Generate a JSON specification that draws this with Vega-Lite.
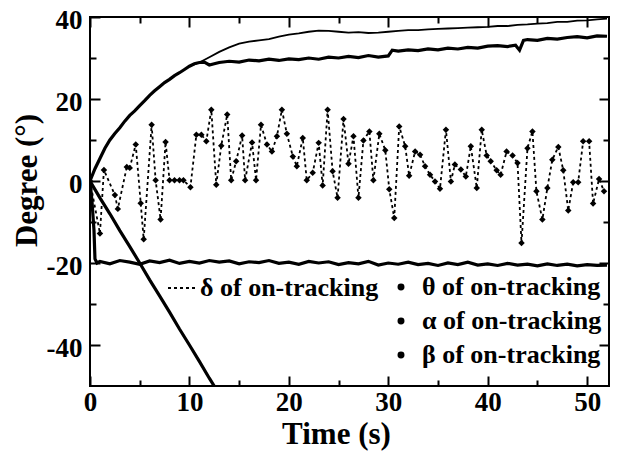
{
  "$schema": "https://vega.github.io/schema/vega-lite/v6.json",
  "width": 519,
  "height": 369,
  "autosize": {"type": "none"},
  "padding": {"left": 90, "top": 17, "right": 10, "bottom": 70},
  "datasets": {
    "delta": [
      {"t":0,"v":0},{"t":1.0,"v":-12.8},{"t":1.4,"v":2.7},{"t":2.5,"v":-3.4},{"t":2.8,"v":-6.8},{"t":3.7,"v":3.4},{"t":4.0,"v":3.2},{"t":4.6,"v":8.9},{"t":5.1,"v":-5.4},{"t":5.4,"v":-14.2},{"t":6.2,"v":13.7},{"t":6.6,"v":0.2},{"t":7.1,"v":-9.4},{"t":7.6,"v":9.5},{"t":8.0,"v":0.2},{"t":8.5,"v":0.2},{"t":9.0,"v":0.2},{"t":9.4,"v":0.2},{"t":10.1,"v":-1.5},{"t":10.7,"v":11.3},{"t":11.2,"v":11.3},{"t":11.7,"v":9.7},{"t":12.2,"v":17.4},{"t":12.7,"v":-0.9},{"t":13.2,"v":8.6},{"t":13.8,"v":16.2},{"t":14.2,"v":0.2},{"t":14.7,"v":4.8},{"t":15.3,"v":11.1},{"t":15.6,"v":0.2},{"t":16.3,"v":9.4},{"t":16.7,"v":0.2},{"t":17.2,"v":13.7},{"t":17.8,"v":8.9},{"t":18.3,"v":7.2},{"t":18.8,"v":10.9},{"t":19.3,"v":17.4},{"t":19.8,"v":11.5},{"t":20.4,"v":6.0},{"t":20.8,"v":3.6},{"t":21.4,"v":10.5},{"t":21.8,"v":0.2},{"t":22.4,"v":2.0},{"t":23.0,"v":9.3},{"t":23.4,"v":-1.1},{"t":23.9,"v":17.4},{"t":24.4,"v":2.4},{"t":24.9,"v":-4.1},{"t":25.5,"v":15.1},{"t":26.0,"v":4.2},{"t":26.5,"v":10.9},{"t":27.0,"v":-4.1},{"t":27.5,"v":9.9},{"t":28.1,"v":12.1},{"t":28.5,"v":0.2},{"t":29.1,"v":11.5},{"t":29.7,"v":7.5},{"t":30.1,"v":-2.0},{"t":30.6,"v":-9.0},{"t":31.1,"v":13.3},{"t":31.7,"v":8.5},{"t":32.1,"v":1.3},{"t":32.7,"v":7.2},{"t":33.2,"v":6.4},{"t":33.7,"v":3.6},{"t":34.2,"v":1.5},{"t":34.7,"v":-0.1},{"t":35.2,"v":-1.9},{"t":35.8,"v":12.5},{"t":36.3,"v":-0.1},{"t":36.7,"v":4.0},{"t":37.3,"v":2.8},{"t":37.8,"v":1.1},{"t":38.3,"v":8.5},{"t":38.9,"v":-1.7},{"t":39.4,"v":12.5},{"t":39.9,"v":6.2},{"t":40.3,"v":4.8},{"t":40.9,"v":2.6},{"t":41.3,"v":1.5},{"t":41.9,"v":7.2},{"t":42.5,"v":6.2},{"t":43.0,"v":4.4},{"t":43.4,"v":-15.1},{"t":44.0,"v":8.0},{"t":44.5,"v":12.1},{"t":44.9,"v":-2.5},{"t":45.5,"v":-9.4},{"t":46.0,"v":-1.7},{"t":46.5,"v":5.2},{"t":47.1,"v":8.3},{"t":47.6,"v":2.6},{"t":48.1,"v":-7.2},{"t":48.6,"v":-0.3},{"t":49.1,"v":-0.3},{"t":49.6,"v":9.7},{"t":50.2,"v":9.7},{"t":50.6,"v":-5.5},{"t":51.2,"v":0.5},{"t":51.7,"v":-2.5}
    ],
    "theta": [
      {"t":0,"v":0},{"t":0.5,"v":3},{"t":1,"v":5.5},{"t":1.5,"v":8},{"t":2,"v":10},{"t":2.5,"v":11.6},{"t":3,"v":13},{"t":3.5,"v":14.6},{"t":4,"v":16},{"t":4.5,"v":17.1},{"t":5,"v":18.4},{"t":5.5,"v":19.6},{"t":6,"v":20.9},{"t":6.5,"v":22},{"t":7,"v":23},{"t":7.5,"v":24},{"t":8,"v":24.8},{"t":8.5,"v":25.7},{"t":9,"v":26.4},{"t":9.5,"v":27.2},{"t":10,"v":28},{"t":10.5,"v":28.6},{"t":11,"v":28.9},{"t":11.5,"v":29},{"t":12,"v":28.3},{"t":12.5,"v":28.6},{"t":13,"v":28.9},{"t":14,"v":29.2},{"t":15,"v":29},{"t":16,"v":29.5},{"t":17,"v":29.3},{"t":18,"v":29.7},{"t":19,"v":29.4},{"t":20,"v":29.8},{"t":21,"v":29.6},{"t":22,"v":30},{"t":23,"v":29.7},{"t":24,"v":30.2},{"t":25,"v":30},{"t":26,"v":30.4},{"t":27,"v":30.1},{"t":28,"v":30.6},{"t":29,"v":30.2},{"t":30,"v":30.5},{"t":30.4,"v":31.9},{"t":31,"v":31.7},{"t":32,"v":32},{"t":33,"v":31.8},{"t":34,"v":32.2},{"t":35,"v":32},{"t":36,"v":32.4},{"t":37,"v":32.2},{"t":38,"v":32.6},{"t":39,"v":32.4},{"t":40,"v":32.9},{"t":41,"v":33},{"t":42,"v":32.8},{"t":42.8,"v":33.1},{"t":43.2,"v":31.9},{"t":43.6,"v":34.3},{"t":44,"v":34.5},{"t":45,"v":34.3},{"t":46,"v":34.8},{"t":47,"v":34.6},{"t":48,"v":35},{"t":49,"v":35.2},{"t":50,"v":34.9},{"t":51,"v":35.4},{"t":52,"v":35.3}
    ],
    "thin": [
      {"t":10,"v":28},{"t":11,"v":28.9},{"t":12,"v":30.2},{"t":13,"v":31.5},{"t":14,"v":32.6},{"t":15,"v":33.5},{"t":16,"v":34},{"t":17,"v":34.3},{"t":18,"v":34.6},{"t":19,"v":35.2},{"t":20,"v":35.7},{"t":21,"v":36},{"t":22,"v":36.4},{"t":23,"v":36.7},{"t":24,"v":36.6},{"t":25,"v":36.4},{"t":26,"v":36.2},{"t":27,"v":36.3},{"t":28,"v":36.1},{"t":29,"v":36.2},{"t":30,"v":36.4},{"t":31,"v":36.6},{"t":32,"v":36.8},{"t":33,"v":36.8},{"t":34,"v":37},{"t":35,"v":37.1},{"t":36,"v":37.2},{"t":37,"v":37.3},{"t":38,"v":37.4},{"t":39,"v":37.5},{"t":40,"v":37.6},{"t":41,"v":37.8},{"t":42,"v":37.8},{"t":43,"v":38.1},{"t":44,"v":38.2},{"t":45,"v":38.4},{"t":46,"v":38.5},{"t":47,"v":38.8},{"t":48,"v":38.8},{"t":49,"v":39.1},{"t":50,"v":39.2},{"t":51,"v":39.4},{"t":52,"v":39.6}
    ],
    "alpha": [
      {"t":0,"v":0},{"t":0.2,"v":-5},{"t":0.4,"v":-12},{"t":0.5,"v":-19},{"t":0.7,"v":-20},{"t":1,"v":-19.6},{"t":2,"v":-20.2},{"t":3,"v":-19.4},{"t":4,"v":-19.8},{"t":5,"v":-20.3},{"t":6,"v":-19.5},{"t":7,"v":-19.9},{"t":8,"v":-19.3},{"t":9,"v":-20.1},{"t":10,"v":-19.6},{"t":11,"v":-20},{"t":12,"v":-19.4},{"t":13,"v":-19.8},{"t":14,"v":-19.5},{"t":15,"v":-20.2},{"t":16,"v":-19.7},{"t":17,"v":-19.9},{"t":18,"v":-19.4},{"t":19,"v":-20.1},{"t":20,"v":-19.8},{"t":21,"v":-20.3},{"t":22,"v":-19.6},{"t":23,"v":-20},{"t":24,"v":-19.7},{"t":25,"v":-20.4},{"t":26,"v":-19.9},{"t":27,"v":-20.2},{"t":28,"v":-19.6},{"t":29,"v":-20.5},{"t":30,"v":-20},{"t":31,"v":-20.3},{"t":32,"v":-19.8},{"t":33,"v":-20.4},{"t":34,"v":-20.1},{"t":35,"v":-20.6},{"t":36,"v":-20},{"t":37,"v":-20.4},{"t":38,"v":-19.8},{"t":39,"v":-20.5},{"t":40,"v":-20.2},{"t":41,"v":-20.6},{"t":42,"v":-20.1},{"t":43,"v":-20.5},{"t":44,"v":-20.3},{"t":45,"v":-20.7},{"t":46,"v":-20.2},{"t":47,"v":-20.6},{"t":48,"v":-20.3},{"t":49,"v":-20.7},{"t":50,"v":-20.4},{"t":51,"v":-20.6},{"t":52,"v":-20.5}
    ],
    "beta": [
      {"t":0,"v":0},{"t":1,"v":-4.1},{"t":2,"v":-8},{"t":3,"v":-12.1},{"t":4,"v":-16},{"t":5,"v":-20},{"t":6,"v":-24.1},{"t":7,"v":-28},{"t":8,"v":-32},{"t":9,"v":-36.1},{"t":10,"v":-40},{"t":11,"v":-44},{"t":12,"v":-48.1},{"t":13,"v":-52}
    ]
  },
  "config": {
    "view": {"stroke": "black", "strokeWidth": 2},
    "axis": {
      "labelFont": "Liberation Serif, Times New Roman, Times, serif", "labelFontWeight": "bold", "labelFontSize": 27, "labelColor": "black",
      "titleFont": "Liberation Serif, Times New Roman, Times, serif", "titleFontWeight": "bold", "titleFontSize": 31, "titleColor": "black",
      "tickColor": "black", "tickWidth": 2, "domain": false, "grid": false, "labelFlush": false
    },
    "legend": {
      "labelFont": "Liberation Serif, Times New Roman, Times, serif", "labelFontWeight": "bold", "labelFontSize": 26, "labelColor": "black",
      "labelLimit": 0, "padding": 0
    }
  },
  "resolve": {"axis": {"x": "independent", "y": "independent"}},
  "layer": [
    {
      "data": {"name": "delta"},
      "mark": {"type": "line", "color": "black", "strokeWidth": 1.8, "clip": true},
      "encoding": {
        "x": {"field": "t", "type": "quantitative", "scale": {"domain": [0, 52.2], "nice": false, "zero": false},
          "axis": {"orient": "bottom", "values": [0, 10, 20, 30, 40, 50], "tickSize": -10, "labelPadding": 13,
            "labelExpr": "'' + datum.value", "title": "Time (s)", "titleX": 246, "titleY": 48,
            "titleAlign": "center", "titleBaseline": "middle"}},
        "y": {"field": "v", "type": "quantitative", "scale": {"domain": [-50, 40], "nice": false, "zero": false},
          "axis": {"orient": "left", "values": [-40, -20, 0, 20, 40], "tickSize": -10, "labelPadding": 18,
            "labelOffset": 3, "labelExpr": "'' + datum.value", "title": "Degree (°)", "titleX": -63, "titleY": 163,
            "titleAngle": 270, "titleAlign": "center", "titleBaseline": "middle"}},
        "strokeDash": {"datum": "δ of on-tracking", "type": "nominal", "scale": {"range": [[3, 3]]},
          "legend": {"orient": "none", "legendX": 77, "legendY": 255, "title": null, "symbolType": "stroke",
            "symbolSize": 900, "symbolStrokeWidth": 1.8, "symbolStrokeColor": "black", "labelOffset": 1}}
      }
    },
    {
      "data": {"name": "delta"},
      "mark": {"type": "point", "filled": true, "shape": "diamond", "size": 42, "color": "black", "opacity": 1, "clip": true},
      "encoding": {
        "x": {"field": "t", "type": "quantitative", "axis": null},
        "y": {"field": "v", "type": "quantitative", "axis": null}
      }
    },
    {
      "data": {"name": "thin"},
      "mark": {"type": "line", "color": "black", "strokeWidth": 1.8, "clip": true},
      "encoding": {
        "x": {"field": "t", "type": "quantitative",
          "axis": {"orient": "bottom", "values": [5, 15, 25, 35, 45], "tickSize": -6, "labels": false, "title": null}},
        "y": {"field": "v", "type": "quantitative",
          "axis": {"orient": "left", "values": [-30, -10, 10, 30], "tickSize": -6, "labels": false, "title": null}}
      }
    },
    {
      "data": {"name": "theta"},
      "mark": {"type": "line", "strokeWidth": 3.2, "clip": true},
      "encoding": {
        "x": {"field": "t", "type": "quantitative",
          "axis": {"orient": "top", "values": [0, 5, 10, 15, 20, 25, 30, 35, 40, 45, 50],
            "tickSize": {"condition": {"test": "datum.value % 10 === 0", "value": -10}, "value": -6},
            "labels": false, "title": null}},
        "y": {"field": "v", "type": "quantitative",
          "axis": {"orient": "right", "values": [-40, -30, -20, -10, 0, 10, 20, 30],
            "tickSize": {"condition": {"test": "datum.value % 20 === 0", "value": -10}, "value": -6},
            "labels": false, "title": null}},
        "color": {"datum": "θ of on-tracking", "type": "nominal",
          "scale": {"domain": ["θ of on-tracking", "α of on-tracking", "β of on-tracking"], "range": ["black", "black", "black"]},
          "legend": {"orient": "none", "legendX": 298, "legendY": 257, "title": null, "symbolType": "circle",
            "symbolSize": 30, "symbolFillColor": "black", "symbolStrokeColor": "black", "rowPadding": 8, "labelOffset": 8,
            "encode": {"symbols": {"update": {"fill": {"value": "black"}, "stroke": {"value": "black"}}}}}}
      }
    },
    {
      "data": {"name": "alpha"},
      "mark": {"type": "line", "strokeWidth": 3.2, "clip": true},
      "encoding": {
        "x": {"field": "t", "type": "quantitative", "axis": null},
        "y": {"field": "v", "type": "quantitative", "axis": null},
        "color": {"datum": "α of on-tracking", "type": "nominal"}
      }
    },
    {
      "data": {"name": "beta"},
      "mark": {"type": "line", "strokeWidth": 3.2, "clip": true},
      "encoding": {
        "x": {"field": "t", "type": "quantitative", "axis": null},
        "y": {"field": "v", "type": "quantitative", "axis": null},
        "color": {"datum": "β of on-tracking", "type": "nominal"}
      }
    }
  ]
}
